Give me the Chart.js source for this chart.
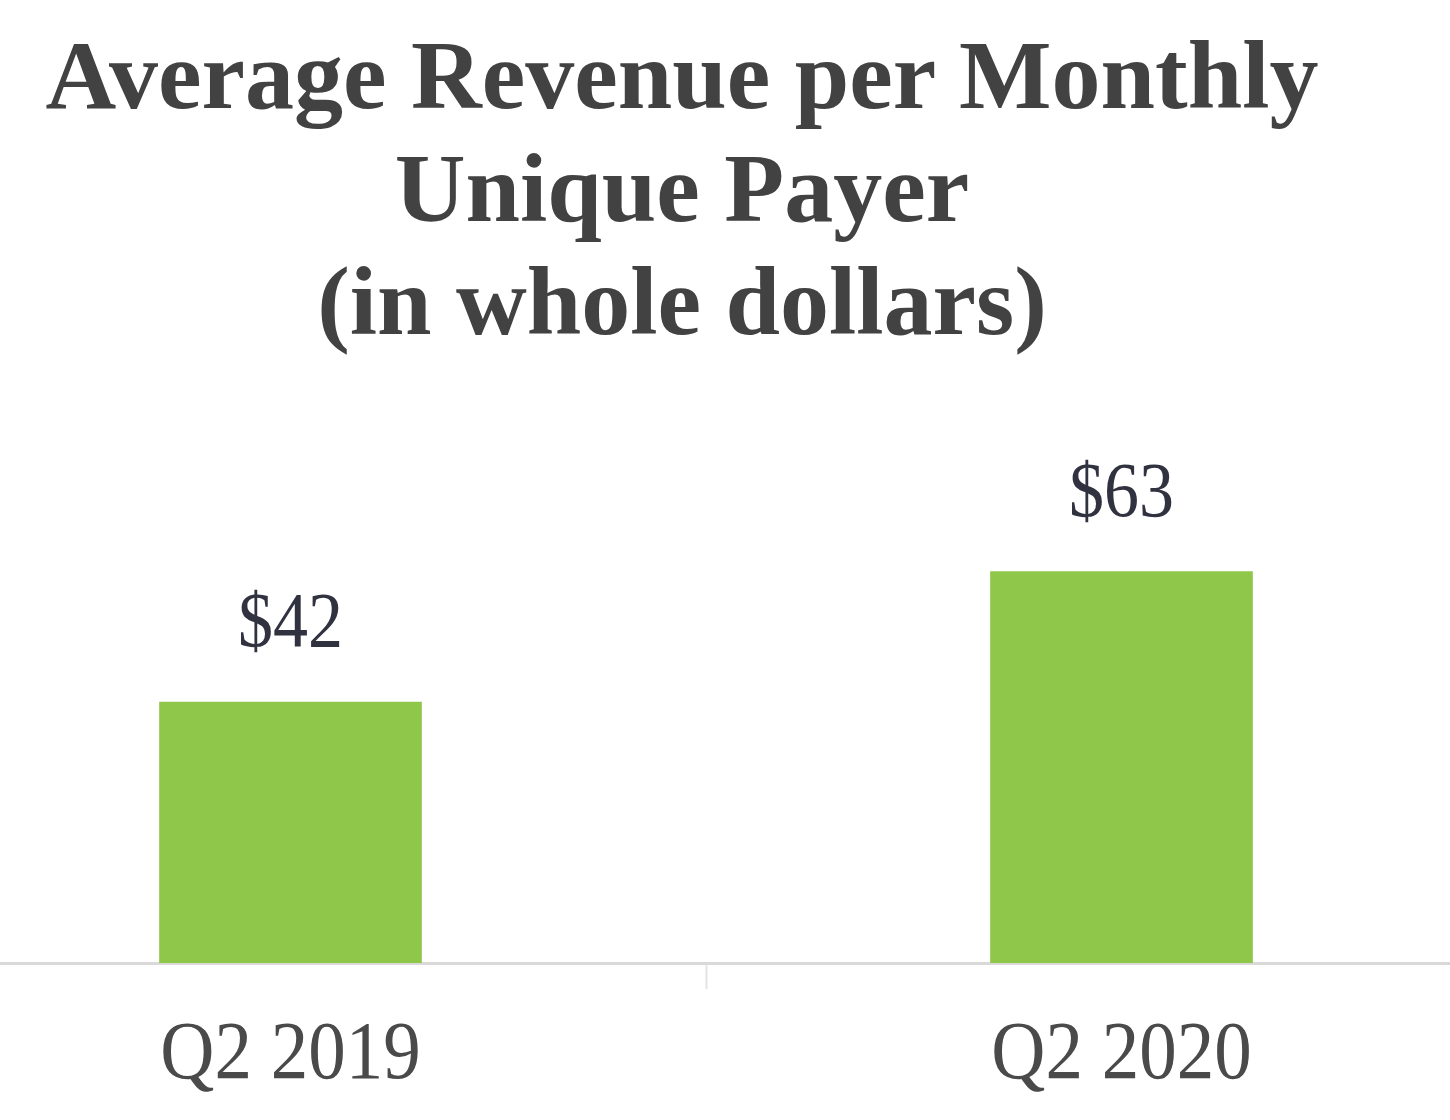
<!DOCTYPE html>
<html>
<head>
<meta charset="utf-8">
<script src="https://cdn.jsdelivr.net/npm/chart.js@4"></script>
<style>
    html, body { margin: 0; padding: 0; background: #ffffff; overflow: hidden; width: 1450px; height: 1120px; }
    #wrap { position: absolute; left: -125px; top: 0; width: 1662px; height: 1120px; }
    #title {
        position: absolute; top: 19px; left: 0; width: 1364px;
        text-align: center; font-family: 'Liberation Serif', serif; font-weight: bold;
        font-size: 98px; line-height: 113px; color: #424242;
    }
</style>
</head>
<body>
<div id="wrap"><canvas id="chart"></canvas></div>
<div id="title">Average Revenue per Monthly<br>Unique Payer<br>(in whole dollars)</div>
<script>
    // data
    const categories = ['Q2 2019', 'Q2 2020'];
    const revenue = [42, 63];
    const valueLabels = ['$42', '$63'];

    // text in the original looks stretched vertically, so draw it by hand
    const stretchedText = {
        id: 'stretchedText',
        afterDatasetsDraw(chart) {
            const ctx = chart.ctx;
            const meta = chart.getDatasetMeta(0);
            const xScale = chart.scales.x;
            ctx.save();
            ctx.textAlign = 'center';
            ctx.textBaseline = 'alphabetic';

            // value labels above bars
            ctx.font = '70px "Liberation Serif", serif';
            ctx.fillStyle = '#30323f';
            meta.data.forEach((bar, i) => {
                ctx.save();
                ctx.translate(bar.x, bar.y - 56);
                ctx.scale(1, 1.12);
                ctx.fillText(valueLabels[i], 0, 0);
                ctx.restore();
            });

            // category labels under the axis
            ctx.font = '75px "Liberation Serif", serif';
            ctx.fillStyle = '#4a4a4a';
            categories.forEach((cat, i) => {
                ctx.save();
                ctx.translate(xScale.getPixelForValue(i), 1078);
                ctx.scale(1, 1.1);
                ctx.fillText(cat, 0, 0);
                ctx.restore();
            });
            ctx.restore();
        }
    };

    new Chart(document.getElementById('chart'), {
        type: 'bar',
        data: {
            labels: categories,
            datasets: [{
                data: revenue,
                backgroundColor: '#8fc74a',
                borderWidth: 0,
                barThickness: 262
            }]
        },
        options: {
            responsive: true,
            maintainAspectRatio: false,
            animation: false,
            layout: { padding: 0 },
            plugins: {
                legend: { display: false },
                tooltip: { enabled: false }
            },
            scales: {
                x: {
                    grid: {
                        drawOnChartArea: false,
                        drawTicks: true,
                        tickLength: 26,
                        tickWidth: 2,
                        color: '#e3e3e3'
                    },
                    border: { color: '#d9d9d9', width: 3 },
                    ticks: { display: false },
                    afterFit(scale) { scale.height = 157; }
                },
                y: {
                    display: false,
                    min: 0,
                    max: 155
                }
            }
        },
        plugins: [stretchedText]
    });
</script>
</body>
</html>
